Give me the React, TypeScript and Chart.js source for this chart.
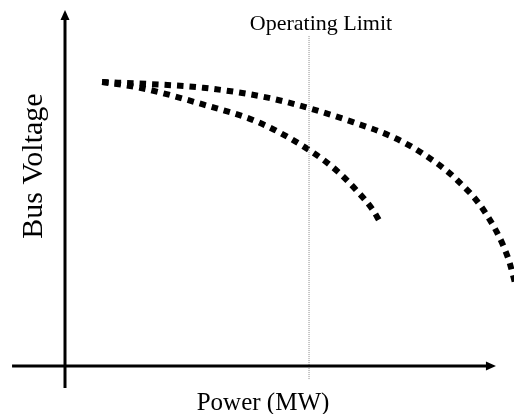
import React, { useEffect, useRef } from "react";
import { Chart, registerables } from "chart.js";

Chart.register(...registerables);

// Power (MW) values and bus voltage (p.u.)
const outerPower = [15.2, 34.8, 56.6, 82.0, 100.0, 118.0, 135.2, 147.5, 159.8, 172.1, 181.6, 184.5];
const outerVoltage = [1.0, 0.993, 0.98, 0.947, 0.908, 0.859, 0.803, 0.743, 0.662, 0.542, 0.38, 0.29];

const innerPower = [15.2, 30.7, 57.4, 79.1, 100.0, 111.5, 119.3, 126.2, 129.1];
const innerVoltage = [1.0, 0.98, 0.919, 0.859, 0.761, 0.687, 0.62, 0.549, 0.507];

const limitPower = [100, 100];
const limitVoltage = [1.162, -0.049];

const xLabel = "Power (MW)";
const yLabel = "Bus Voltage";
const limitLabel = "Operating Limit";

const FONT = '"Liberation Serif", "Times New Roman", serif';

const toPoints = (xs: number[], ys: number[]) => xs.map((x, i) => ({ x, y: ys[i] }));

const axesPlugin = {
  id: "axesPlugin",
  afterDraw(chart: any) {
    const ctx = chart.ctx as CanvasRenderingContext2D;
    const xs = chart.scales.x;
    const ys = chart.scales.y;
    const x0 = xs.getPixelForValue(0);
    const y0 = ys.getPixelForValue(0);
    const xEnd = xs.getPixelForValue(176.6);
    const xStart = xs.getPixelForValue(-21.7);
    const yTop = ys.getPixelForValue(1.254);
    const yBottom = ys.getPixelForValue(-0.077);
    ctx.save();
    ctx.strokeStyle = "#000";
    ctx.fillStyle = "#000";
    ctx.lineWidth = 3;
    // x axis
    ctx.beginPath();
    ctx.moveTo(xStart, y0);
    ctx.lineTo(xEnd - 8, y0);
    ctx.stroke();
    ctx.beginPath();
    ctx.moveTo(xEnd, y0);
    ctx.lineTo(xEnd - 10, y0 - 4.5);
    ctx.lineTo(xEnd - 10, y0 + 4.5);
    ctx.closePath();
    ctx.fill();
    // y axis
    ctx.beginPath();
    ctx.moveTo(x0, yBottom);
    ctx.lineTo(x0, yTop + 8);
    ctx.stroke();
    ctx.beginPath();
    ctx.moveTo(x0, yTop);
    ctx.lineTo(x0 - 4.5, yTop + 10);
    ctx.lineTo(x0 + 4.5, yTop + 10);
    ctx.closePath();
    ctx.fill();

    // labels
    ctx.textAlign = "center";
    ctx.textBaseline = "alphabetic";
    ctx.font = `25px ${FONT}`;
    ctx.fillText(xLabel, 263, 410);
    ctx.save();
    ctx.translate(42, 166);
    ctx.rotate(-Math.PI / 2);
    ctx.font = `30px ${FONT}`;
    ctx.fillText(yLabel, 0, 0);
    ctx.restore();
    ctx.font = `22px ${FONT}`;
    ctx.fillText(limitLabel, xs.getPixelForValue(100) + 12, 30);
    ctx.restore();
  },
};

export default function App() {
  const ref = useRef<HTMLCanvasElement>(null);
  useEffect(() => {
    const chart = new Chart(ref.current!, {
      type: "scatter",
      data: {
        datasets: [
          {
            data: toPoints(limitPower, limitVoltage),
            showLine: true,
            borderColor: "#8a8a8a",
            borderWidth: 1,
            borderDash: [1, 1],
            pointRadius: 0,
          },
          {
            data: toPoints(outerPower, outerVoltage),
            showLine: true,
            borderColor: "#000",
            borderWidth: 6,
            borderDash: [6.5, 6],
            borderCapStyle: "butt",
            cubicInterpolationMode: "monotone",
            pointRadius: 0,
          },
          {
            data: toPoints(innerPower, innerVoltage),
            showLine: true,
            borderColor: "#000",
            borderWidth: 6,
            borderDash: [6.5, 6],
            borderCapStyle: "butt",
            cubicInterpolationMode: "monotone",
            pointRadius: 0,
          },
        ],
      },
      options: {
        animation: false,
        responsive: false,
        layout: { padding: 0 },
        plugins: { legend: { display: false }, tooltip: { enabled: false } },
        scales: {
          x: { type: "linear", display: false, min: -26.64, max: 184.0 },
          y: { type: "linear", display: false, min: -0.169, max: 1.289 },
        },
      } as any,
      plugins: [axesPlugin],
    });
    return () => chart.destroy();
  }, []);
  return (
    <div style={{ position: "absolute", left: 0, top: 0, width: 514, height: 414, background: "#fff" }}>
      <canvas ref={ref} width={514} height={414} style={{ display: "block" }} />
    </div>
  );
}
